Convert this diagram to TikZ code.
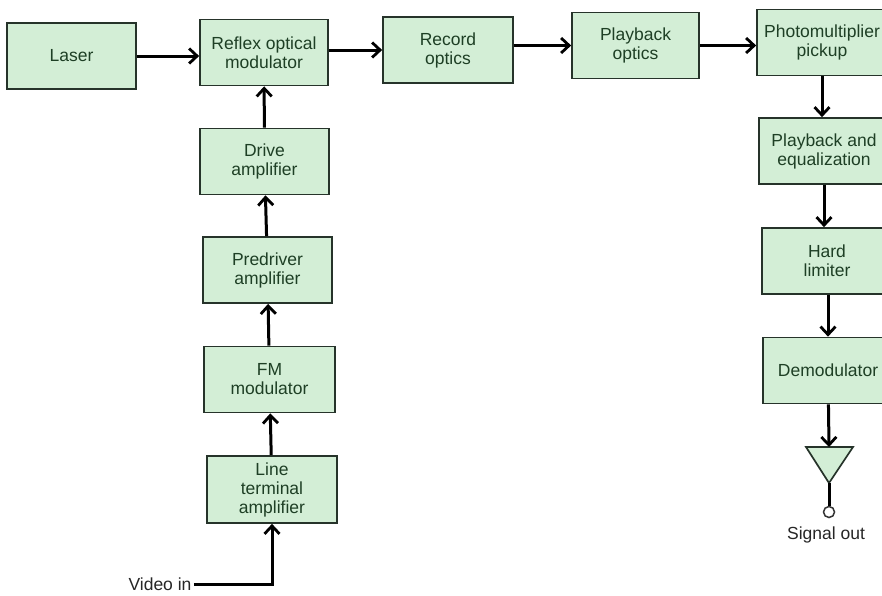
\documentclass[tikz,border=0pt]{standalone}
\usepackage{fontspec}
\setsansfont{Liberation Sans}
\usetikzlibrary{arrows.meta}

\definecolor{boxfill}{HTML}{D3EED6}
\definecolor{boxtext}{HTML}{1E3F25}
\definecolor{boxline}{HTML}{26332A}

\begin{document}
\begin{tikzpicture}[x=1pt, y=-1pt, font=\sffamily\fontsize{17.5}{19}\selectfont,
    blk/.style={draw=boxline, line width=1.7pt, fill=boxfill, text=boxtext,
      align=center, inner sep=1pt, minimum width=128pt, minimum height=66pt},
    arr/.style={line width=3pt, -{Straight Barb[length=8pt, width=15pt, line width=2.8pt]}}]
      \clip (0, 0) rectangle (882, 595);
      \fill[white] (0, 0) rectangle (882, 595);

      \node[blk, minimum width=129pt] (laser) at (71.5, 56) {Laser};
      \node[blk] (reflex) at (264, 52.5) {Reflex optical\\modulator};
      \node[blk, minimum width=130pt] (record) at (448, 50) {Record\\optics};
      \node[blk, minimum width=127pt] (playopt) at (635.5, 45.5) {Playback\\optics};
      \node[blk, minimum width=130pt] (photo) at (822, 42.5) {Photomultiplier\\pickup};
      \node[blk, minimum width=130pt] (playeq) at (824, 151) {Playback and\\equalization};
      \node[blk, minimum width=130pt] (hard) at (827, 261) {Hard\\limiter};
      \node[blk, minimum width=130pt] (demod) at (828, 370.5) {Demodulator};

      \node[blk, minimum width=129pt] (drive) at (264.5, 161.5) {Drive\\amplifier};
      \node[blk, minimum width=129pt] (predrv) at (267.5, 270) {Predriver\\amplifier};
      \node[blk, minimum width=131pt] (fm) at (269.5, 379.5) {FM\\modulator};
      \node[blk, minimum width=130pt, minimum height=67pt] (lineamp) at (272, 489.5) {Line\\terminal\\amplifier};

      \node[text=black!85] (vin) at (160, 584) {Video in};
      \node[text=black!85] (sigout) at (826, 535) {Signal out};

      % output amplifier
      \coordinate (amptop) at (829, 447);
      \coordinate (ampout) at (829, 483);
      \draw[draw=boxline, line width=1.7pt, fill=boxfill] (806, 447) -- (853, 447) -- (ampout) -- cycle;
      \node[draw=black!80, line width=1.5pt, fill=white, circle, minimum size=11pt, inner sep=0pt] (outpt) at (829, 512) {};
      \draw[line width=3pt] (ampout) -- (outpt);

      \draw [arr] (laser) -- (laser -| reflex.west);
      \draw [arr] (reflex.east |- record) -- (record);
      \draw [arr] (record.east |- playopt) -- (playopt);
      \draw [arr] (playopt) -- (playopt -| photo.west);
      \draw [arr] (photo) -- (photo |- playeq.north);
      \draw [arr] (playeq) -- (playeq |- hard.north);
      \draw [arr] (demod |- hard.south) -- (demod);
      \draw [arr] (demod) -- (amptop);

      \draw [arr] (drive) -- (reflex);
      \draw [arr] (predrv) -- (drive);
      \draw [arr] (fm) -- (predrv);
      \draw [arr] (lineamp) -- (fm);
      \draw [arr, shorten <=-1pt] (vin.east) -| (lineamp.south);
\end{tikzpicture}
\end{document}
